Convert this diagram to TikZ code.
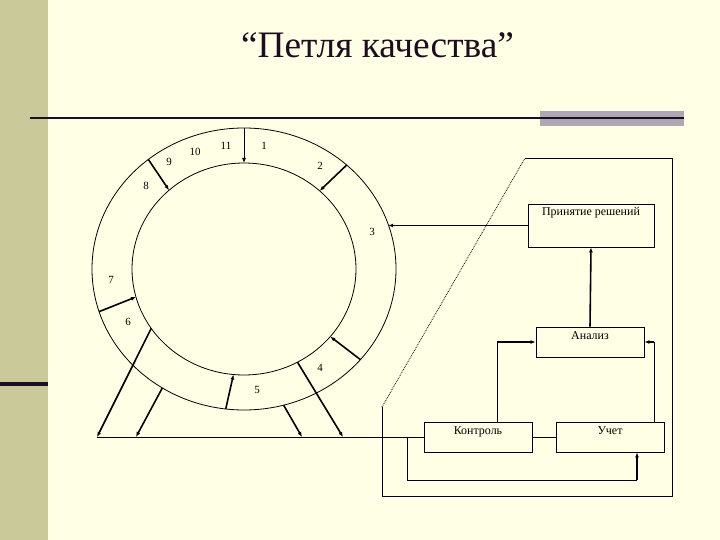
\documentclass[tikz,border=0pt]{standalone}
\usepackage{fontspec}
\setmainfont{Liberation Serif}
\usetikzlibrary{positioning,arrows.meta,calc}
\definecolor{slidebg}{HTML}{FFFFE5}
\definecolor{stripe}{HTML}{C9C99A}
\definecolor{ink}{HTML}{1E0C20}
\definecolor{barGray}{HTML}{AFA8B2}

\begin{document}
\begin{tikzpicture}[x=1bp,y=-1bp,line width=0.8pt,
  box/.style={draw,line width=0.8pt,minimum width=108bp,inner sep=1bp,text height=11bp,text depth=17bp,font=\fontsize{12}{14}\selectfont},
  num/.style={font=\fontsize{11}{13}\selectfont,inner sep=1pt},
  ringarr/.style={line width=1.6pt,-{Latex[length=5bp,width=4bp]}},
  thinarr/.style={line width=0.8pt,-{Latex[length=5bp,width=4bp]}}]
\fill[slidebg] (0,0) rectangle (720,540);
\useasboundingbox (0,0) rectangle (720,540);
\fill[stripe] (0,0) rectangle (48,540);
\fill[ink] (0,382) rectangle (48,386);
\fill[barGray] (540,111) rectangle (684,126);
\draw[ink,line width=2.5pt] (30,118) -- (684,118);
\node[font=\fontsize{37.5}{42}\selectfont,text=ink,anchor=base] (title) at (377.5,58) {“Петля качества”};
\coordinate (c) at (244,269);
\draw (c) ellipse [x radius=152bp,y radius=141bp];
\draw (c) ellipse [x radius=112bp,y radius=106bp];
\foreach \n/\ao/\ai in {a/-90/-90,b/231/228,c/-47.5/-47.5,d/162.4/164.7,e/40/39.6,f/96.9/95.4}{
  \coordinate (o\n) at ($(c)+(\ao:152 and 141)$);
  \coordinate (i\n) at ($(c)+(\ai:112 and 106)$);}
\draw[thinarr] (oa) -- (ia);
\foreach \n in {b,c,d,e,f}{
  \draw[ringarr] (o\n) -- (i\n);}
\coordinate (g1) at ($(c)+(145.9:112 and 106)$);
\coordinate (g2) at ($(c)+(122.5:152 and 141)$);
\coordinate (g3) at ($(c)+(74.9:152 and 141)$);
\coordinate (g4) at ($(c)+(61.5:112 and 106)$);
\coordinate (r3) at ($(c)+(-18.4:152 and 141)$);
\coordinate (b1) at (97,437);
\coordinate (b2) at (136,437);
\coordinate (b3) at (302,437);
\coordinate (b4) at (343,437);
\foreach \i in {1,2,3,4}{
  \draw[ringarr] (g\i) -- (b\i);}
\foreach \t/\x/\y in {1/264/146,2/320/166,3/372/232,4/320/368,5/257/390,6/128/322,7/111/280,8/146/186,9/169/162,10/195/152,11/226/146}{
  \node[num] (n\t) at (\x,\y) {\t};}
\node[box,text depth=30bp,minimum width=126bp] (pr) at (591,225.5) {Принятие решений};
\node[box] (an) at (590,342) {Анализ};
\node[box] (ko) at (478,437) {Контроль};
\node[box] (uc) at (610,437) {Учет};
\draw[thinarr] (pr.west) -- (pr.west -| r3);
\draw[ringarr] (an.north) -- (pr.south);
\draw ([xshift=19bp]ko.north) -- ([xshift=19bp]ko.north |- an.west) coordinate (k1);
\draw[ringarr] (k1) -- (an.west);
\draw ([xshift=44bp]uc.north) -- ([xshift=44bp]uc.north |- an.east) coordinate (u1);
\draw[ringarr] (u1) -- (an.east);
\draw (ko.east) -- (uc.west);
\draw (b1) -- (ko.west);
\coordinate (j1) at (407,437);
\coordinate (j2) at (407,480);
\coordinate (j3) at ([xshift=27bp]uc.south |- j2);
\draw (j1) -- (j2) -- (j3);
\draw[ringarr] (j3) -- ([xshift=27bp]uc.south);
\coordinate (p1) at (525,158);
\coordinate (p2) at (672,158);
\coordinate (p3) at (672,496);
\coordinate (p4) at (382,496);
\coordinate (p5) at (382,407);
\draw (p1) -- (p2) -- (p3) -- (p4) -- (p5);
\draw[densely dotted] (p5) -- (p1);
\end{tikzpicture}
\end{document}
